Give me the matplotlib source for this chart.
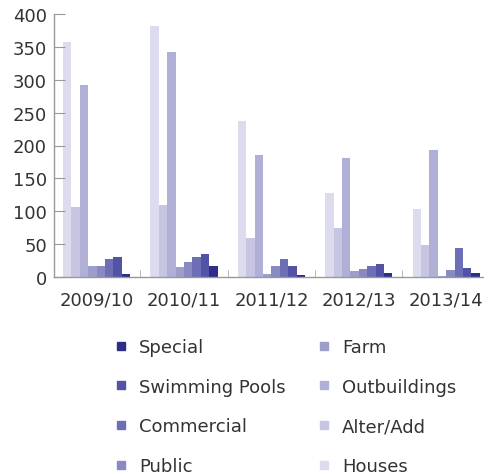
import matplotlib.pyplot as plt
from matplotlib.lines import Line2D
import numpy as np

years = ['2009/10', '2010/11', '2011/12', '2012/13', '2013/14']
series = ['Houses', 'Alter/Add', 'Outbuildings', 'Farm', 'Public',
          'Commercial', 'Swimming Pools', 'Special']

houses = [357, 381, 238, 128, 103]
alter_add = [106, 109, 60, 74, 49]
outbuildings = [292, 342, 186, 181, 193]
farm = [17, 15, 5, 9, 2]
public = [17, 23, 16, 12, 10]
commercial = [27, 31, 28, 17, 44]
swimming_pools = [30, 35, 16, 20, 14]
special = [5, 16, 3, 6, 6]

colors = ['#dcdcee', '#c6c6e2', '#b0b0d6', '#9e9ecc', '#8a8ac2',
          '#6e6eb6', '#5252a6', '#2e2e88']

values = [houses, alter_add, outbuildings, farm, public,
          commercial, swimming_pools, special]

plt.rcParams['font.family'] = 'DejaVu Sans'

fig = plt.figure(figsize=(4.84, 4.77), dpi=100)
ax = fig.add_axes([54 / 484, 1 - 278 / 477, 430 / 484, 263 / 477])

step = 10.4
group_x = np.arange(len(years)) * step
for j, (vals, c) in enumerate(zip(values, colors)):
    ax.bar(group_x + j, vals, width=1.0, align='edge', color=c, linewidth=0)

ax.set_xlim(-1.07, 50.1)
ax.set_ylim(0, 400)
ax.set_yticks(range(0, 401, 50))

ax.set_xticks(group_x + 4)
ax.set_xticklabels(years)
ax.set_xticks(group_x[1:] - 1.2, minor=True)

for s in ['top', 'right']:
    ax.spines[s].set_visible(False)
for s in ['left', 'bottom']:
    ax.spines[s].set_color('#999999')
    ax.spines[s].set_linewidth(1.0)

ax.tick_params(axis='y', direction='in', length=8, color='#999999',
               labelsize=13, labelcolor='#333333', pad=5)
ax.tick_params(axis='x', which='major', length=0, labelsize=13,
               labelcolor='#333333', pad=10)
ax.tick_params(axis='x', which='minor', direction='in', length=5,
               color='#aaaaaa')

# legend: column-wise, reversed series order
order = [7, 6, 5, 4, 3, 2, 1, 0]
handles = [Line2D([], [], marker='s', linestyle='', color=colors[k],
                  markersize=6) for k in order]
labels = [series[k] for k in order]
fig.legend(handles, labels, ncol=2, loc='upper left',
           bbox_to_anchor=(105 / 484, 1 - 330 / 477), frameon=False,
           fontsize=13, labelcolor='#333333', handlelength=0.8,
           handletextpad=0.6, labelspacing=1.2, columnspacing=1.7,
           borderpad=0)

fig.savefig('out.png', dpi=100)
